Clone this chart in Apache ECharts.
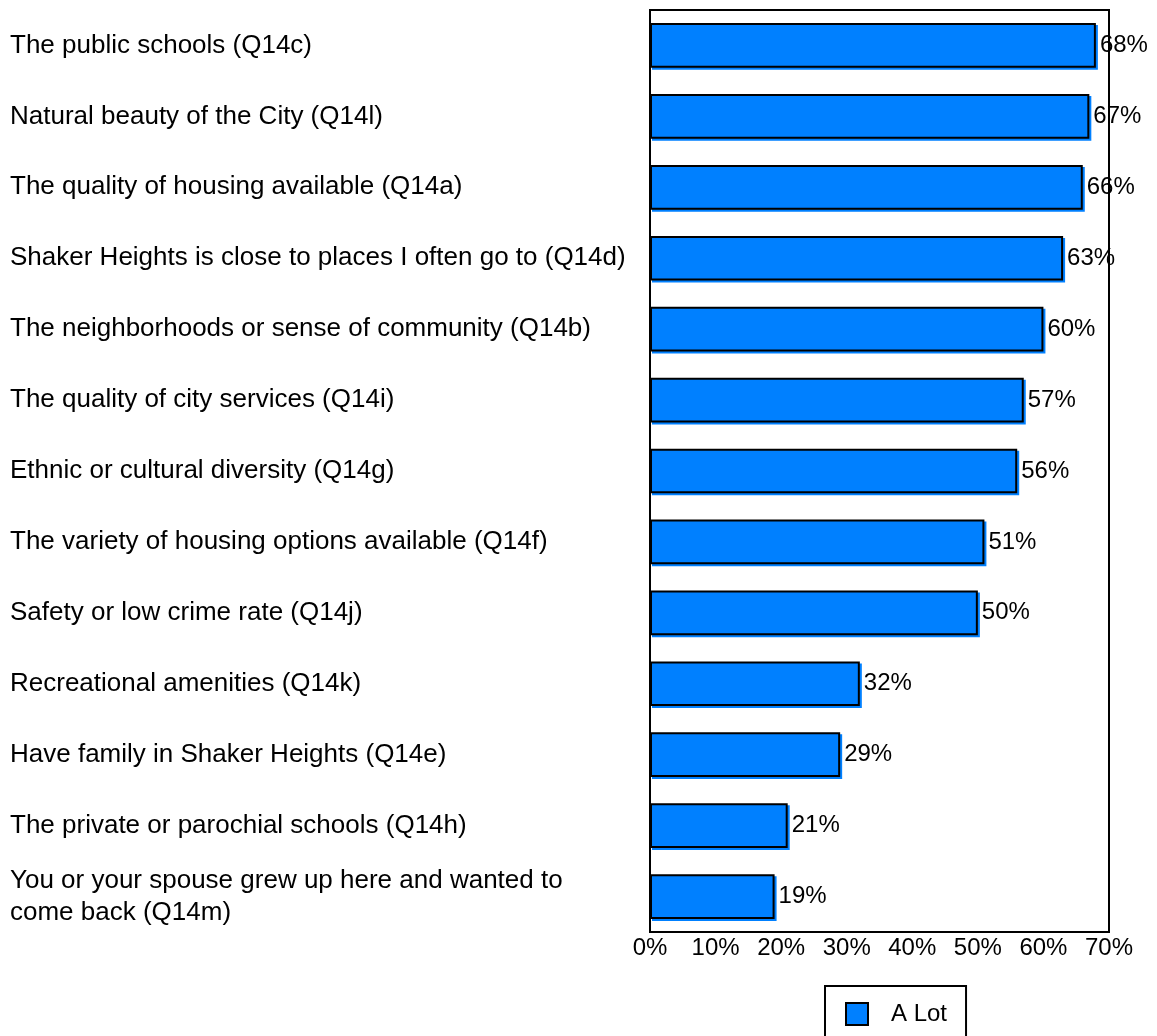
<!DOCTYPE html>
<html>
<head>
<meta charset="utf-8">
<script src="https://cdn.jsdelivr.net/npm/echarts@6/dist/echarts.min.js"></script>
<style>
  html, body { margin: 0; padding: 0; background: #fff; }
  #chart { width: 1157px; height: 1036px; }
</style>
</head>
<body>
<div id="chart"></div>
<script>
// Reasons for living in Shaker Heights — share answering "A Lot"
const categories = [
  'The public schools (Q14c)',
  'Natural beauty of the City (Q14l)',
  'The quality of housing available (Q14a)',
  'Shaker Heights is close to places I often go to (Q14d)',
  'The neighborhoods or sense of community (Q14b)',
  'The quality of city services (Q14i)',
  'Ethnic or cultural diversity (Q14g)',
  'The variety of housing options available (Q14f)',
  'Safety or low crime rate (Q14j)',
  'Recreational amenities (Q14k)',
  'Have family in Shaker Heights (Q14e)',
  'The private or parochial schools (Q14h)',
  'You or your spouse grew up here and wanted to\ncome back (Q14m)'
];
const aLot = [68, 67, 66, 63, 60, 57, 56, 51, 50, 32, 29, 21, 19];
const seriesName = 'A Lot';

const FONT = 'Liberation Sans, Arial, sans-serif';
const BLUE = '#0080ff';

const chart = echarts.init(document.getElementById('chart'), null, { renderer: 'canvas' });
chart.setOption({
  backgroundColor: '#ffffff',
  animation: false,
  textStyle: { fontFamily: FONT, color: '#000' },
  grid: {
    left: 650, right: 48, top: 10, bottom: 104,
    show: true, borderColor: '#000', borderWidth: 2, backgroundColor: 'transparent'
  },
  legend: {
    data: [seriesName],
    left: 825, top: 986,
    padding: [16, 19, 16, 20],
    borderColor: '#000', borderWidth: 2,
    itemWidth: 22, itemHeight: 22, itemGap: 10,
    icon: 'rect',
    textStyle: { fontFamily: FONT, fontSize: 24, color: '#000', padding: [0, 0, 0, 18] },
    itemStyle: { borderColor: '#000', borderWidth: 2 }
  },
  xAxis: {
    type: 'value',
    min: 0, max: 70, interval: 10,
    axisLine: { show: true, lineStyle: { color: '#000', width: 2 } },
    axisTick: { show: false },
    splitLine: { show: false },
    axisLabel: { formatter: '{value}%', fontSize: 24, color: '#000', margin: 4, fontFamily: FONT }
  },
  yAxis: {
    type: 'category',
    data: categories,
    inverse: true,
    axisLine: { show: true, lineStyle: { color: '#000', width: 2 } },
    axisTick: { show: false },
    axisLabel: {
      align: 'left', margin: 640, fontSize: 26, lineHeight: 32,
      color: '#000', fontFamily: FONT, interval: 0
    }
  },
  series: [{
    name: seriesName,
    type: 'bar',
    data: aLot,
    barWidth: '63%',
    itemStyle: {
      color: BLUE, borderColor: '#000', borderWidth: 2,
      shadowColor: BLUE, shadowOffsetX: 2, shadowOffsetY: 2, shadowBlur: 0
    },
    label: {
      show: true, position: 'right', distance: 4,
      formatter: '{c}%', fontSize: 24, color: '#000', fontFamily: FONT
    }
  }]
});
</script>
</body>
</html>
